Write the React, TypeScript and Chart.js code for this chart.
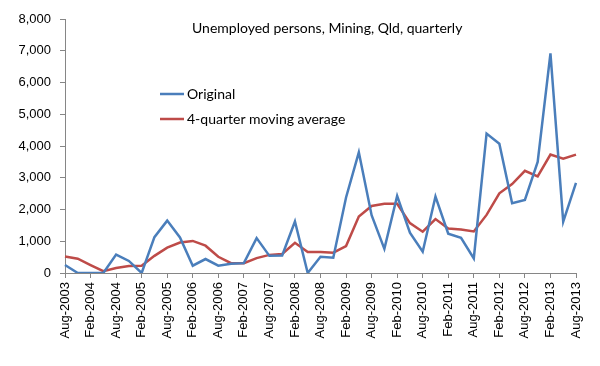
import React, { useEffect, useRef } from "react";
import { Chart, registerables } from "chart.js";

Chart.register(...registerables);

const quarters: string[] = [
  "Aug-2003", "Nov-2003", "Feb-2004", "May-2004", "Aug-2004", "Nov-2004",
  "Feb-2005", "May-2005", "Aug-2005", "Nov-2005", "Feb-2006", "May-2006",
  "Aug-2006", "Nov-2006", "Feb-2007", "May-2007", "Aug-2007", "Nov-2007",
  "Feb-2008", "May-2008", "Aug-2008", "Nov-2008", "Feb-2009", "May-2009",
  "Aug-2009", "Nov-2009", "Feb-2010", "May-2010", "Aug-2010", "Nov-2010",
  "Feb-2011", "May-2011", "Aug-2011", "Nov-2011", "Feb-2012", "May-2012",
  "Aug-2012", "Nov-2012", "Feb-2013", "May-2013", "Aug-2013",
];

const original: number[] = [
  250, 0, 0, 0, 580, 380, 0, 1130, 1650, 1120, 230, 440, 230, 290, 310,
  1100, 540, 550, 1620, 0, 510, 480, 2380, 3800, 1820, 760, 2430, 1270,
  670, 2410, 1240, 1110, 460, 4390, 4070, 2200, 2300, 3500, 6920, 1620, 2840,
];

const movingAverage: number[] = [
  520, 450, 250, 60, 160, 220, 230, 540, 800, 960, 1010, 860, 510, 310, 310,
  470, 570, 600, 950, 660, 660, 640, 850, 1780, 2110, 2180, 2180, 1570, 1300,
  1700, 1400, 1370, 1310, 1830, 2510, 2800, 3220, 3040, 3730, 3600, 3730,
];

const titleText = "Unemployed persons, Mining, Qld, quarterly";
const seriesNames = ["Original", "4-quarter moving average"];
const seriesColors = ["#4A7EBB", "#BE4B48"];
const axisColor = "#868686";

const overlayPlugin = {
  id: "overlayText",
  afterDraw(chart: any) {
    const ctx = chart.ctx;
    const area = chart.chartArea;
    ctx.save();
    ctx.fillStyle = "#000";
    ctx.font = "14px Lato, 'Open Sans', sans-serif";
    ctx.textBaseline = "middle";
    ctx.textAlign = "left";
    ctx.fillText(titleText, area.left + 127, area.top + 9);
    seriesNames.forEach((name, i) => {
      const y = area.top + 75 + i * 25;
      ctx.strokeStyle = seriesColors[i];
      ctx.lineWidth = 2.5;
      ctx.beginPath();
      ctx.moveTo(area.left + 95, y);
      ctx.lineTo(area.left + 119, y);
      ctx.stroke();
      ctx.fillStyle = "#000";
      ctx.fillText(name, area.left + 122, y);
    });
    ctx.restore();
  },
};

export default function App() {
  const canvasRef = useRef<HTMLCanvasElement | null>(null);

  useEffect(() => {
    if (!canvasRef.current) return;
    const chart = new Chart(canvasRef.current, {
      type: "line",
      data: {
        labels: quarters,
        datasets: [
          {
            label: seriesNames[0],
            data: original,
            borderColor: seriesColors[0],
            backgroundColor: seriesColors[0],
            borderWidth: 2.5,
            pointRadius: 0,
            tension: 0,
          },
          {
            label: seriesNames[1],
            data: movingAverage,
            borderColor: seriesColors[1],
            backgroundColor: seriesColors[1],
            borderWidth: 2.5,
            pointRadius: 0,
            tension: 0,
          },
        ],
      },
      options: {
        responsive: false,
        animation: false,
        maintainAspectRatio: false,
        layout: { padding: { left: 0, right: 24, top: 19, bottom: 0 } },
        plugins: {
          legend: { display: false },
          title: { display: false },
          tooltip: { enabled: false },
        },
        scales: {
          x: {
            type: "category",
            offset: false,
            border: { color: axisColor, width: 1 },
            grid: {
              drawOnChartArea: false,
              drawTicks: true,
              tickLength: 5,
              tickColor: (c: any) => (c.index % 2 === 0 ? axisColor : "rgba(0,0,0,0)"),
            },
            ticks: {
              autoSkip: false,
              minRotation: 90,
              maxRotation: 90,
              padding: 4,
              color: "#000",
              font: { family: "'Liberation Sans', Arial, sans-serif", size: 13 },
              callback: (_v: any, i: number) => (i % 2 === 0 ? quarters[i] : ""),
            },
            afterFit: (s: any) => {
              s.height = 93;
            },
          },
          y: {
            min: 0,
            max: 8000,
            border: { color: axisColor, width: 1 },
            grid: { drawOnChartArea: false, drawTicks: true, tickLength: 5, tickColor: axisColor },
            ticks: {
              stepSize: 1000,
              padding: 9,
              color: "#000",
              font: { family: "'Liberation Sans', Arial, sans-serif", size: 13 },
              callback: (v: any) => Number(v).toLocaleString("en-US"),
            },
            afterFit: (s: any) => {
              s.width = 65;
            },
          },
        },
      },
      plugins: [overlayPlugin],
    });
    return () => chart.destroy();
  }, []);

  return (
    <div style={{ position: "absolute", left: 0, top: 0, width: 600, height: 366, background: "#fff" }}>
      <canvas ref={canvasRef} width={600} height={366} />
    </div>
  );
}
